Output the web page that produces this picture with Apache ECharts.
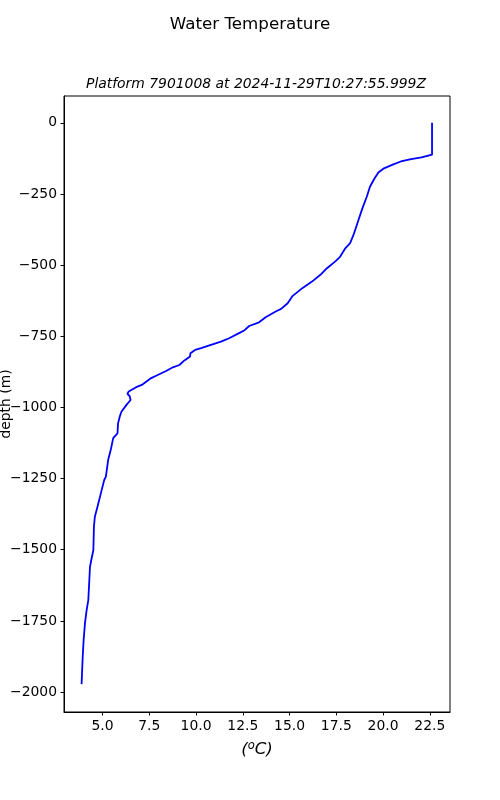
<!DOCTYPE html>
<html>
<head>
<meta charset="utf-8">
<script src="https://cdn.jsdelivr.net/npm/echarts@6/dist/echarts.min.js"></script>
<style>
  html, body { margin: 0; padding: 0; background: #fff; }
  #chart { width: 500px; height: 800px; }
</style>
</head>
<body>
<div id="chart"></div>
<script>
// profile, surface to bottom
const depths = [
  0, -112, -122, -128, -136, -146, -160, -175, -195, -225,
  -260, -300, -341, -394, -423, -441, -470, -487, -511, -534,
  -558, -581, -610, -634, -654, -663, -683, -701, -714, -730,
  -739, -757, -769, -780, -792, -798, -805, -810, -821, -835,
  -851, -859, -872, -886, -897, -909, -921, -929, -944, -952,
  -960, -966, -974, -991, -1015, -1030, -1056, -1091, -1108, -1149,
  -1185, -1243, -1255, -1302, -1349, -1384, -1419, -1501, -1536, -1560,
  -1677, -1712, -1759, -1817, -1876, -1972
]
const temps = [
  22.62, 22.62, 22.06, 21.5, 20.95, 20.55, 20.05, 19.75, 19.55, 19.3,
  19.13, 18.9, 18.69, 18.42, 18.24, 17.98, 17.71, 17.45, 17.0, 16.65,
  16.2, 15.68, 15.14, 14.9, 14.55, 14.26, 13.72, 13.37, 12.84, 12.57,
  12.3, 11.77, 11.33, 10.8, 10.27, 9.95, 9.93, 9.7, 9.68, 9.38,
  9.11, 8.76, 8.4, 7.95, 7.6, 7.35, 7.1, 6.8, 6.4, 6.33,
  6.45, 6.4, 6.5, 6.28, 6.01, 5.93, 5.83, 5.8, 5.57, 5.44,
  5.3, 5.18, 5.09, 4.91, 4.73, 4.59, 4.54, 4.51, 4.4, 4.33,
  4.24, 4.15, 4.06, 3.99, 3.94, 3.88
]
const xTicks = [5, 7.5, 10, 12.5, 15, 17.5, 20, 22.5]
const yTicks = [0, -250, -500, -750, -1000, -1250, -1500, -1750, -2000]

const font = 'DejaVu Sans'
const minus = (s) => String(s).replace('-', '\u2212')

const chart = echarts.init(document.getElementById('chart'), null, { renderer: 'canvas' })

const option = {
  backgroundColor: '#fff',
  animation: false,
  title: [
    {
      text: 'Water Temperature',
      left: 'center',
      top: 11,
      textStyle: { fontFamily: font, fontSize: 16.7, fontWeight: 'normal', color: '#000' },
    },
    {
      text: 'Platform 7901008 at 2024-11-29T10:27:55.999Z',
      left: 251,
      textAlign: 'center',
      top: 72,
      textStyle: { fontFamily: font, fontSize: 13.9, fontStyle: 'italic', fontWeight: 'normal', color: '#000' },
    },
  ],
  grid: {
    left: 64,
    right: 50,
    top: 96,
    bottom: 88,
    containLabel: false,
    outerBoundsMode: 'none',
    show: true,
    borderColor: '#000',
    borderWidth: 1,
  },
  xAxis: {
    type: 'value',
    min: 2.94,
    max: 23.58,
    name: '{p|(}{s|o}{p|C)}',
    nameLocation: 'middle',
    nameGap: 28,
    nameMoveOverlap: false,
    nameTextStyle: {
      rich: {
        p: { fontFamily: font, fontSize: 16.7, fontStyle: 'italic', color: '#000' },
        s: { fontFamily: font, fontSize: 11.5, fontStyle: 'italic', color: '#000', verticalAlign: 'top', padding: [0, 0, 8, 0] },
      },
    },
    axisLine: { show: true, onZero: false, lineStyle: { color: '#000', width: 1 } },
    axisTick: { show: true, length: 3.5, customValues: xTicks, lineStyle: { color: '#000' } },
    axisLabel: {
      customValues: xTicks,
      margin: 7,
      fontFamily: font,
      fontSize: 13.9,
      color: '#000',
      formatter: (v) => v.toFixed(1),
    },
    splitLine: { show: false },
  },
  yAxis: {
    type: 'value',
    min: -2070,
    max: 94,
    name: 'depth (m)',
    nameLocation: 'middle',
    nameGap: 51,
    nameMoveOverlap: false,
    nameTextStyle: { fontFamily: font, fontSize: 13.9, color: '#000' },
    axisLine: { show: true, onZero: false, lineStyle: { color: '#000', width: 1 } },
    axisTick: { show: true, length: 3.5, customValues: yTicks, lineStyle: { color: '#000' } },
    axisLabel: {
      customValues: yTicks,
      margin: 7,
      padding: [3, 0, 0, 0],
      fontFamily: font,
      fontSize: 13.9,
      color: '#000',
      formatter: (v) => minus(v),
    },
    splitLine: { show: false },
  },
  series: [
    {
      type: 'line',
      data: depths.map((d, i) => [temps[i], d]),
      showSymbol: false,
      symbol: 'none',
      lineStyle: { color: '#0000ff', width: 1.8 },
      itemStyle: { color: '#0000ff' },
    },
  ],
}

chart.setOption(option)
</script>
</body>
</html>
